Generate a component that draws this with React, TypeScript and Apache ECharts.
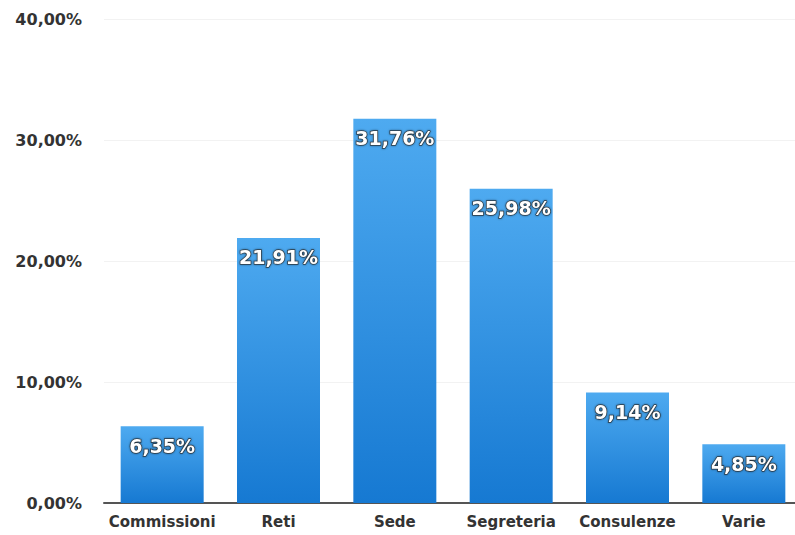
import React, { useEffect, useRef } from "react";
import * as echarts from "echarts";

const categories = ["Commissioni", "Reti", "Sede", "Segreteria", "Consulenze", "Varie"];
const values = [6.35, 21.91, 31.76, 25.98, 9.14, 4.85];
const yTicks = [0, 10, 20, 30, 40];

const fmt = (v: number) => v.toFixed(2).replace(".", ",") + "%";
const FONT = "DejaVu Sans, Verdana, sans-serif";

export default function App() {
  const ref = useRef<HTMLDivElement>(null);
  useEffect(() => {
    const chart = echarts.init(ref.current!, null, { renderer: "svg" });
    chart.setOption({
      animation: false,
      backgroundColor: "#ffffff",
      grid: {
        left: 104,
        width: 698,
        top: 19,
        bottom: 32,
        containLabel: false,
        outerBoundsMode: "none",
      },
      xAxis: {
        type: "category",
        data: categories,
        axisLine: { show: true, lineStyle: { color: "#555555", width: 2 } },
        axisTick: { show: false },
        axisLabel: {
          interval: 0,
          hideOverlap: false,
          color: "#333333",
          fontFamily: FONT,
          fontSize: 15,
          fontWeight: "bold",
          margin: 11,
        },
      },
      yAxis: {
        type: "value",
        min: yTicks[0],
        max: yTicks[yTicks.length - 1],
        interval: 10,
        axisLine: { show: false },
        axisTick: { show: false },
        splitLine: { show: true, lineStyle: { color: "#f2f2f2", width: 1 } },
        axisLabel: {
          color: "#333333",
          fontFamily: FONT,
          fontSize: 16,
          fontWeight: "bold",
          margin: 22,
          formatter: (v: number) => fmt(v),
        },
      },
      series: [
        {
          type: "bar",
          data: values,
          barWidth: 83,
          itemStyle: {
            color: new echarts.graphic.LinearGradient(0, 0, 0, 1, [
              { offset: 0, color: "#4eaaf0" },
              { offset: 1, color: "#1679d2" },
            ]),
          },
          label: {
            show: true,
            position: "insideTop",
            distance: 10,
            formatter: (p: any) => fmt(p.value),
            color: "#ffffff",
            fontFamily: FONT,
            fontSize: 19,
            fontWeight: "bold",
            textBorderColor: "rgba(40,40,40,0.8)",
            textBorderWidth: 1.5,
            textShadowColor: "rgba(0,0,0,0.5)",
            textShadowBlur: 2,
          },
        },
      ],
    });
    return () => chart.dispose();
  }, []);
  return (
    <div
      ref={ref}
      style={{ position: "fixed", left: 0, top: 0, width: 795, height: 535 }}
    />
  );
}
